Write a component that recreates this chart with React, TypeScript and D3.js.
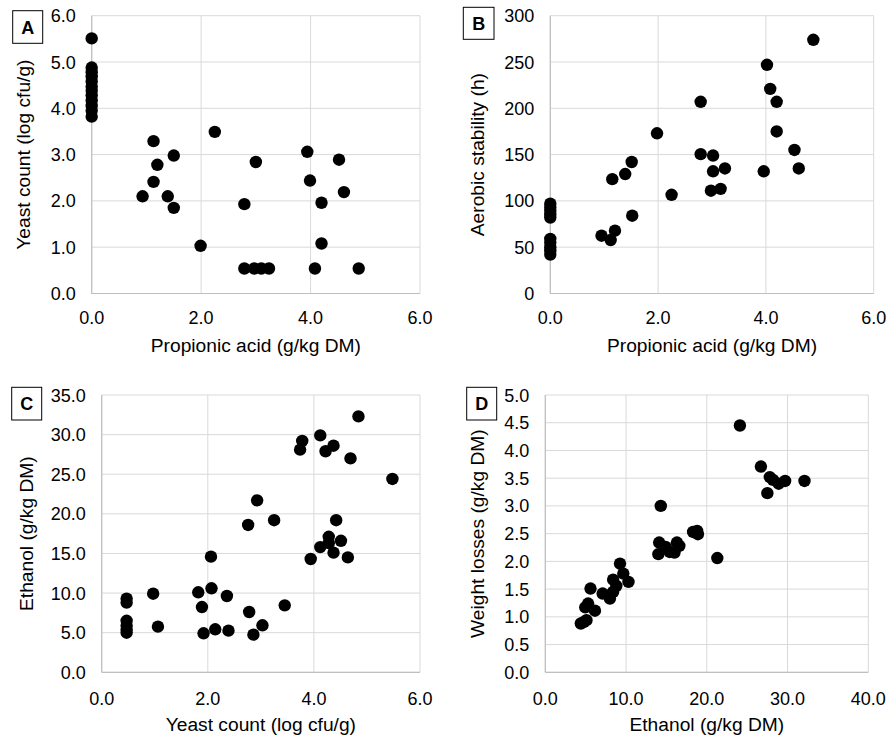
import React from "react";
import * as d3 from "d3";

// Panel A: propionic acid vs yeast count
const propA = [0, 0, 0, 0, 0, 0, 0, 0, 0, 0, 0, 0, 1.13, 1.2, 1.5, 1.13, 2.25, 3.0, 3.94, 4.52, 3.99, 0.93, 1.39, 1.5, 4.61, 4.2, 2.79, 1.99, 4.2, 2.79, 2.97, 3.1, 3.24, 4.08, 4.88];
const yeastA = [5.51, 4.88, 4.78, 4.68, 4.58, 4.47, 4.38, 4.28, 4.17, 4.05, 3.95, 3.82, 3.29, 2.78, 2.98, 2.41, 3.49, 2.84, 3.06, 2.89, 2.44, 2.1, 2.1, 1.85, 2.19, 1.96, 1.93, 1.03, 1.08, 0.54, 0.54, 0.54, 0.54, 0.54, 0.54];

// Panel B: propionic acid vs aerobic stability
const propB = [4.88, 4.02, 4.08, 4.2, 2.79, 1.98, 4.2, 4.53, 2.79, 3.02, 1.51, 1.39, 1.15, 3.02, 3.24, 3.96, 4.61, 2.25, 2.98, 3.16, 1.52, 0.95, 1.12, 1.2, 0, 0, 0, 0, 0, 0, 0, 0, 0, 0];
const stabB = [274, 247, 221, 207, 207, 173, 175, 155, 150.5, 149, 142, 129, 123.5, 132, 135, 132, 135, 106.6, 111, 113, 84, 62.4, 57.7, 67.8, 97, 93, 89, 85, 82, 59, 55, 50, 46, 42];

// Panel C: yeast count vs ethanol
const yeastC = [4.84, 4.12, 3.78, 3.74, 4.22, 4.37, 4.69, 5.48, 2.93, 2.76, 3.25, 4.42, 4.28, 4.28, 4.12, 4.51, 4.37, 3.94, 4.64, 2.06, 0.97, 1.82, 2.07, 2.36, 1.89, 2.78, 3.45, 3.03, 1.06, 1.92, 2.14, 2.39, 2.86, 0.47, 0.47, 0.47, 0.47, 0.47, 0.47];
const ethC = [32.3, 29.9, 29.2, 28.1, 27.9, 28.6, 27.0, 24.4, 21.7, 18.6, 19.2, 19.2, 17.1, 16.3, 15.8, 16.6, 15.1, 14.3, 14.5, 14.6, 9.92, 10.1, 10.6, 9.63, 8.24, 7.61, 8.45, 5.93, 5.76, 4.92, 5.43, 5.26, 4.75, 9.3, 8.8, 6.5, 5.9, 5.4, 5.0];

// Panel D: ethanol vs weight losses
const ethD = [24.1, 26.7, 27.8, 28.2, 28.9, 29.7, 32.1, 27.5, 14.3, 18.3, 18.9, 18.8, 14.1, 14.9, 15.4, 16.0, 16.3, 16.6, 14.0, 21.3, 9.25, 9.66, 10.3, 8.4, 8.8, 8.4, 8.0, 7.1, 5.6, 5.3, 4.95, 6.15, 4.8, 4.4, 5.1];
const lossD = [4.45, 3.71, 3.52, 3.47, 3.4, 3.45, 3.45, 3.23, 3.0, 2.53, 2.49, 2.55, 2.34, 2.26, 2.17, 2.16, 2.34, 2.28, 2.13, 2.06, 1.96, 1.78, 1.63, 1.67, 1.56, 1.45, 1.33, 1.42, 1.51, 1.24, 1.17, 1.11, 0.91, 0.88, 0.94];

const ticksPropX = [0, 2, 4, 6];
const ticksYeastY = [0, 1, 2, 3, 4, 5, 6];
const ticksStabY = [0, 50, 100, 150, 200, 250, 300];
const ticksEthY = [0, 5, 10, 15, 20, 25, 30, 35];
const ticksEthX = [0, 10, 20, 30, 40];
const ticksLossY = [0, 0.5, 1, 1.5, 2, 2.5, 3, 3.5, 4, 4.5, 5];

const FONT = "'Liberation Sans', Arial, sans-serif";

type PanelProps = {
  letter: string;
  box: [number, number, number, number];
  left: number;
  right: number;
  top: number;
  bottom: number;
  xs: number[];
  ys: number[];
  xDomain: [number, number];
  yDomain: [number, number];
  xTicks: number[];
  yTicks: number[];
  yFmt: (v: number) => string;
  xTitle: string;
  yTitle: string;
  yTitleX: number;
  xTickOffset: number;
  xTitleOffset: number;
};

function Panel(p: PanelProps) {
  const x = d3.scaleLinear().domain(p.xDomain).range([p.left, p.right]);
  const y = d3.scaleLinear().domain(p.yDomain).range([p.bottom, p.top]);
  const fx = d3.format(".1f");
  return (
    <g>
      {p.yTicks.map((t) => (
        <line key={"gy" + t} x1={p.left} x2={p.right} y1={y(t)} y2={y(t)} stroke="#d9d9d9" strokeWidth={1} />
      ))}
      {p.xTicks.map((t) => (
        <line key={"gx" + t} x1={x(t)} x2={x(t)} y1={p.top} y2={p.bottom} stroke="#d9d9d9" strokeWidth={1} />
      ))}
      <line x1={p.left} x2={p.right} y1={p.bottom} y2={p.bottom} stroke="#bfbfbf" strokeWidth={1.2} />
      <line x1={p.left} x2={p.left} y1={p.top} y2={p.bottom} stroke="#bfbfbf" strokeWidth={1.2} />
      {p.yTicks.map((t) => (
        <text key={"ty" + t} x={p.left - 16} y={y(t) + 6.5} textAnchor="end" fontSize={18} fontFamily={FONT} fill="#000">
          {p.yFmt(t)}
        </text>
      ))}
      {p.xTicks.map((t) => (
        <text key={"tx" + t} x={x(t)} y={p.bottom + p.xTickOffset} textAnchor="middle" fontSize={18} fontFamily={FONT} fill="#000">
          {fx(t)}
        </text>
      ))}
      <text x={(p.left + p.right) / 2} y={p.bottom + p.xTitleOffset} textAnchor="middle" fontSize={19.2} fontFamily={FONT} fill="#000">
        {p.xTitle}
      </text>
      <text
        transform={`translate(${p.yTitleX},${(p.top + p.bottom) / 2}) rotate(-90)`}
        textAnchor="middle"
        fontSize={19.2}
        fontFamily={FONT}
        fill="#000"
      >
        {p.yTitle}
      </text>
      {p.xs.map((v, i) => (
        <circle key={"c" + i} cx={x(v)} cy={y(p.ys[i])} r={6.2} fill="#000" />
      ))}
      <rect x={p.box[0]} y={p.box[1]} width={p.box[2] - p.box[0]} height={p.box[3] - p.box[1]} fill="#fff" stroke="#000" strokeWidth={1} />
      <text
        x={(p.box[0] + p.box[2]) / 2}
        y={(p.box[1] + p.box[3]) / 2 + 6.5}
        textAnchor="middle"
        fontSize={18}
        fontWeight="bold"
        fontFamily={FONT}
        fill="#000"
      >
        {p.letter}
      </text>
    </g>
  );
}

export default function App() {
  const f1 = d3.format(".1f");
  const f0 = d3.format("d");
  return (
    <svg width={894} height={740} style={{ position: "absolute", left: 0, top: 0, background: "#fff" }}>
      <rect x={0} y={0} width={894} height={740} fill="#fff" />
      <Panel
        letter="A"
        box={[12.7, 10.7, 42.7, 43.3]}
        left={91.7}
        right={420}
        top={15.7}
        bottom={293.5}
        xs={propA}
        ys={yeastA}
        xDomain={[0, 6]}
        yDomain={[0, 6]}
        xTicks={ticksPropX}
        yTicks={ticksYeastY}
        yFmt={f1}
        xTitle="Propionic acid (g/kg DM)"
        yTitle="Yeast count (log cfu/g)"
        yTitleX={30}
        xTickOffset={30}
        xTitleOffset={58}
      />
      <Panel
        letter="B"
        box={[463.3, 7.3, 494, 39.3]}
        left={550.3}
        right={873.7}
        top={15.7}
        bottom={293.5}
        xs={propB}
        ys={stabB}
        xDomain={[0, 6]}
        yDomain={[0, 300]}
        xTicks={ticksPropX}
        yTicks={ticksStabY}
        yFmt={f0}
        xTitle="Propionic acid (g/kg DM)"
        yTitle="Aerobic stability (h)"
        yTitleX={484}
        xTickOffset={30}
        xTitleOffset={58}
      />
      <Panel
        letter="C"
        box={[11.7, 387.3, 41.7, 420]}
        left={101.7}
        right={420}
        top={395}
        bottom={672.3}
        xs={yeastC}
        ys={ethC}
        xDomain={[0, 6]}
        yDomain={[0, 35]}
        xTicks={ticksPropX}
        yTicks={ticksEthY}
        yFmt={f1}
        xTitle="Yeast count (log cfu/g)"
        yTitle="Ethanol (g/kg DM)"
        yTitleX={33}
        xTickOffset={32.5}
        xTitleOffset={59}
      />
      <Panel
        letter="D"
        box={[466.7, 387.3, 496.7, 420]}
        left={545.3}
        right={868.3}
        top={395}
        bottom={672.3}
        xs={ethD}
        ys={lossD}
        xDomain={[0, 40]}
        yDomain={[0, 5]}
        xTicks={ticksEthX}
        yTicks={ticksLossY}
        yFmt={f1}
        xTitle="Ethanol (g/kg DM)"
        yTitle="Weight losses (g/kg DM)"
        yTitleX={484}
        xTickOffset={32.5}
        xTitleOffset={59}
      />
    </svg>
  );
}
